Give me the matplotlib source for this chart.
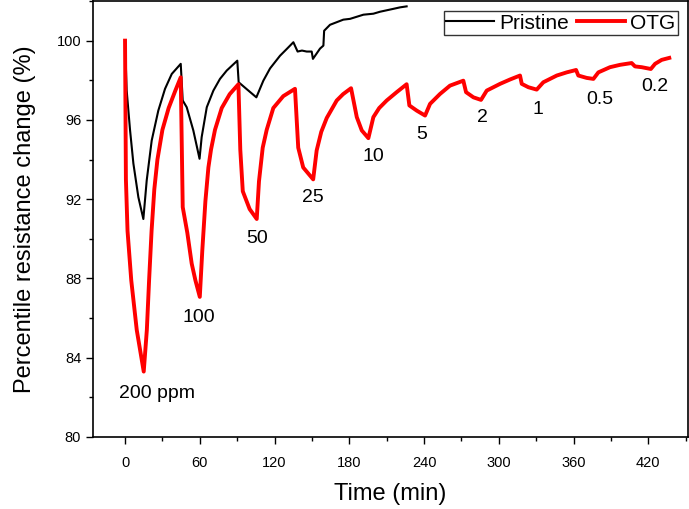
import matplotlib
matplotlib.use("Agg")
import matplotlib.pyplot as plt
from matplotlib.ticker import MultipleLocator

plt.rcParams['font.family'] = ['Liberation Sans', 'DejaVu Sans']

# OTG sensor response
t_otg = [0, 0.7, 2, 5, 9.4, 15, 17.5, 19.3, 21.3, 23.5, 26, 30, 35, 40.5, 44.7,
         46.3, 50, 53.5, 56.5, 60, 62, 64.5, 66.9, 69, 72.2, 77.6, 84, 91,
         92.5, 94.5, 100, 105.7, 107.5, 110.5, 113.7, 119, 127, 136.4,
         139, 143, 151, 153.8, 157.5, 161.9, 169.9, 175, 181.4,
         186, 190, 195.3, 199.3, 204, 210, 218, 226,
         228.2, 234.1, 240.8, 244.8, 252.8, 260.8, 271.5,
         273.7, 279.6, 285.7, 290.3, 301, 309, 317,
         318.4, 323.7, 330.4, 335.7, 346.5, 354.5, 362,
         363.8, 370.5, 375.9, 379.9, 389.2, 397.3, 406.6,
         409.3, 414.7, 422, 425.4, 430.7, 436.8]
r_otg = [100, 93.0, 90.4, 87.9, 85.4, 83.3, 85.4, 87.9, 90.4, 92.5, 94.0, 95.5, 96.6, 97.5, 98.15,
         91.6, 90.3, 88.75, 87.9, 87.07, 89.4, 91.9, 93.6, 94.5, 95.5, 96.6, 97.3, 97.8,
         94.5, 92.4, 91.5, 91.0, 92.9, 94.6, 95.5, 96.6, 97.2, 97.57,
         94.6, 93.6, 93.0, 94.46, 95.4, 96.1, 96.98, 97.3, 97.6,
         96.14, 95.47, 95.08, 96.14, 96.6, 96.98, 97.4, 97.8,
         96.73, 96.47, 96.22, 96.81, 97.31, 97.73, 97.98,
         97.4, 97.14, 97.01, 97.48, 97.82, 98.04, 98.24,
         97.82, 97.65, 97.53, 97.9, 98.24, 98.4, 98.52,
         98.24, 98.12, 98.07, 98.4, 98.66, 98.78, 98.87,
         98.7, 98.66, 98.57, 98.83, 99.03, 99.13]

# Pristine sensor response
t_pr = [0, 1.3, 4, 6.7, 10.7, 14.7, 17.4, 21.4, 26.7, 32.1, 37.5, 44.7,
        46.3, 49.5, 54.8, 59.8, 61.5, 65.6, 70.9, 76.2, 81.6, 90.1,
        91.2, 97.7, 105.4, 111, 116.4, 124.4, 129.8, 135.1,
        138.5, 142, 145.8, 149.8, 150.8, 156.5, 159.2, 159.8, 164.5,
        175.2, 180.6, 191.3, 199.3, 204.7, 215, 220.7, 226]
r_pr = [100, 97.5, 95.5, 93.8, 92.1, 91.0, 92.95, 94.96, 96.47, 97.57, 98.32, 98.83,
        96.98, 96.64, 95.47, 94.04, 95.13, 96.64, 97.48, 98.07, 98.49, 98.99,
        97.9, 97.55, 97.14, 97.98, 98.6, 99.24, 99.58, 99.92,
        99.45, 99.5, 99.45, 99.45, 99.08, 99.6, 99.75, 100.5, 100.8,
        101.06, 101.1, 101.31, 101.36, 101.46, 101.6, 101.68, 101.73]

# concentration labels
conc_labels = ['200 ppm', '100', '50', '25', '10', '5', '2', '1', '0.5', '0.2']
conc_t = [25.7, 59.5, 106, 150.5, 199.3, 238.1, 286.9, 331, 381.2, 425]
conc_r = [81.96, 85.8, 89.77, 91.85, 93.92, 95.06, 95.87, 96.32, 96.78, 97.45]

fig = plt.figure(figsize=(6.89, 5.09), dpi=100)
ax = fig.add_axes([0.135, 0.1415, 0.8635, 0.8565])

ax.plot(t_pr, r_pr, color='black', lw=1.5, label='Pristine')
ax.plot(t_otg, r_otg, color='#ff0000', lw=2.8, label='OTG')

for lab, x, y in zip(conc_labels, conc_t, conc_r):
    ax.text(x, y, lab, ha='center', va='baseline', fontsize=14)

ax.set_xlim(-25.7, 451.8)
ax.set_ylim(80, 102)
ax.xaxis.set_major_locator(MultipleLocator(60))
ax.xaxis.set_minor_locator(MultipleLocator(30))
ax.yaxis.set_major_locator(MultipleLocator(4))
ax.yaxis.set_minor_locator(MultipleLocator(2))
ax.tick_params(which='major', direction='out', length=5, width=1, labelsize=10.5)
ax.tick_params(which='minor', direction='out', length=3, width=1)
ax.tick_params(axis='x', which='major', pad=9)
ax.set_xticks([0, 60, 120, 180, 240, 300, 360, 420])

ax.set_xlabel('Time (min)', fontsize=17, labelpad=9)
ax.set_ylabel('Percentile resistance change (%)', fontsize=17, labelpad=15)

for s in ax.spines.values():
    s.set_linewidth(1.2)

leg = ax.legend(loc='upper right', ncol=2, fontsize=15, frameon=True, fancybox=False,
                edgecolor='black', handlelength=2.3, handletextpad=0.25,
                columnspacing=0.4, borderpad=0.1, borderaxespad=0.5)
leg.get_frame().set_linewidth(1.0)

fig.savefig('out.png', dpi=100)
